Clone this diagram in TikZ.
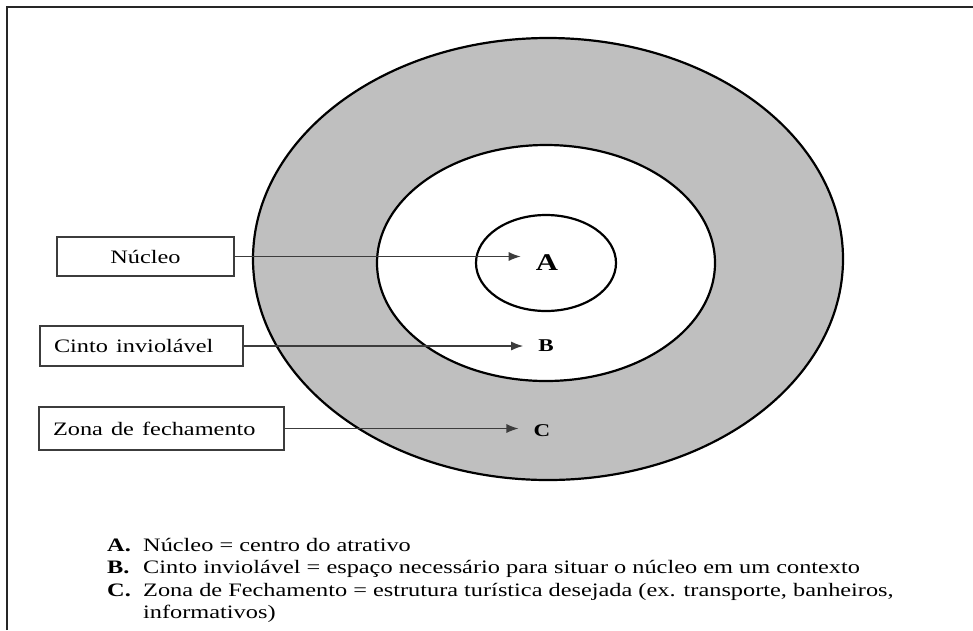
\documentclass[tikz,border=0pt]{standalone}
\usepackage{fontspec}
\setmainfont{Liberation Serif}
\usepackage{graphicx}
\usetikzlibrary{arrows.meta}
\newcommand{\sx}[1]{\scalebox{1.28}[1]{#1}}
\definecolor{ringgray}{RGB}{191,191,191}
\definecolor{linegray}{RGB}{60,60,60}
\begin{document}
\begin{tikzpicture}[x=1pt,y=-1pt,
  labelbox/.style={draw=linegray, line width=1.2pt, fill=white, inner ysep=0pt, font=\fontsize{19}{22}\selectfont},
  ring/.style={draw=black, line width=2.2pt},
  arr/.style={draw=linegray, line width=1.2pt, -{Latex[length=12pt,width=9pt]}, shorten >=15pt},
  letter/.style={font=\bfseries\fontsize{18}{20}\selectfont, inner sep=0pt},
  legend/.style={anchor=base west, inner sep=0pt, font=\fontsize{19}{22}\selectfont},
  legendkey/.style={legend, font=\bfseries\fontsize{19}{22}\selectfont}
]
\useasboundingbox (0,0) rectangle (973,630);
\draw[line width=2pt, black!85] (7,630) -- (7,7) -- (973,7);

\filldraw[ring, fill=ringgray] (548,259) ellipse [x radius=295, y radius=221];
\filldraw[ring, fill=white] (546,263) ellipse [x radius=169, y radius=118];
\draw[ring] (546,263) ellipse [x radius=70, y radius=48];

\node[labelbox, minimum width=177pt, minimum height=39pt] (nucleo) at (145.5,256.5) {\sx{Núcleo}};
\node[labelbox, minimum height=40pt, text width=175pt, inner xsep=14pt, align=left] (cinto) at (141.5,346) {\sx{Cinto inviolável}};
\node[labelbox, minimum height=43pt, text width=217pt, inner xsep=14pt, align=left] (zona) at (161.5,428.5) {\sx{Zona de fechamento}};

\node[letter, font=\bfseries\fontsize{24}{26}\selectfont] (A) at (547,263) {\sx{A}};
\node[letter] (B) at (546,346) {\sx{B}};
\node[letter] (C) at (542,431) {\sx{C}};

\draw[arr] (nucleo.east) -- (nucleo.east -| A.west);
\draw[arr] (cinto.east) -- (cinto.east -| B.west);
\draw[arr] (zona.east) -- (zona.east -| C.west);

\node[legendkey] (ka) at (107,551) {\sx{A.}};
\node[legend] (ta) at (143,551) {\sx{Núcleo = centro do atrativo}};
\node[legendkey] (kb) at (107,573) {\sx{B.}};
\node[legend] (tb) at (143,573) {\sx{Cinto inviolável = espaço necessário para situar o núcleo em um contexto}};
\node[legendkey] (kc) at (107,596) {\sx{C.}};
\node[legend] (tc) at (143,596) {\sx{Zona de Fechamento = estrutura turística desejada (ex. transporte, banheiros,}};
\node[legend] (td) at (143,618) {\sx{informativos)}};
\end{tikzpicture}
\end{document}
